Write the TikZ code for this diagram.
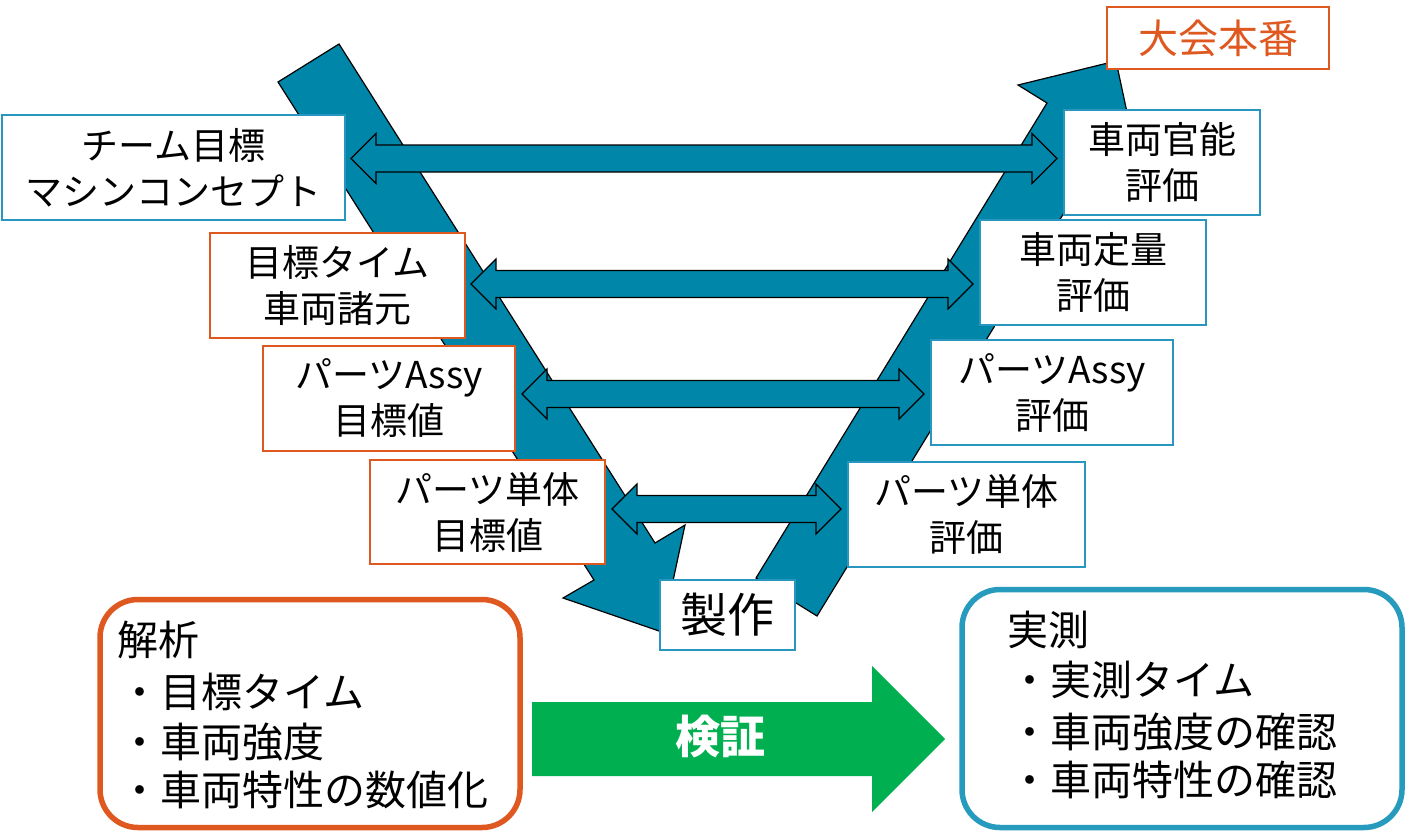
\documentclass[tikz,border=0pt]{standalone}
\usepackage{fontspec}
\setmainfont{Noto Sans CJK JP}
\definecolor{teal}{RGB}{0,134,168}
\definecolor{bblue}{RGB}{40,150,190}
\definecolor{rblue}{RGB}{38,155,190}
\definecolor{orng}{RGB}{222,88,32}
\definecolor{grn}{RGB}{0,176,80}
\tikzset{
  band/.style={fill=teal,draw=black,line width=1.2pt,line join=miter},
  dbl/.style={fill=teal,draw=black,line width=1.2pt,line join=miter},
  bluebox/.style={draw=bblue,line width=1.4pt,fill=white,rectangle,inner sep=0pt,align=center,font=\fontsize{37}{46}\selectfont},
  orbox/.style={draw=orng,line width=1.4pt,fill=white,rectangle,inner sep=0pt,align=center,font=\fontsize{37}{46}\selectfont},
  rbox/.style={rectangle,rounded corners=38pt,line width=5.5pt,fill=white,inner sep=0pt},
  btext/.style={anchor=base west,inner sep=0pt,font=\fontsize{41}{50}\selectfont},
}
\newcommand\dblarr[4]{%
  \coordinate (#1) at (#3,#2);
  \draw[dbl] (#3,#2) -- ({#3+25},{#2-25}) -- ({#3+25},{#2-13.5}) -- ({#4-25},{#2-13.5})
    -- ({#4-25},{#2-25}) -- (#4,#2) -- ({#4-25},{#2+25}) -- ({#4-25},{#2+13.5})
    -- ({#3+25},{#2+13.5}) -- ({#3+25},{#2+25}) -- cycle;}
\begin{document}
\begin{tikzpicture}[x=1pt,y=-1pt]
\useasboundingbox (0,0) rectangle (1408,833);
% V bands
\draw[band] (278,82) -- (339,44) -- (655,543) -- (685,525) -- (662,632) -- (563,598) -- (594,580) -- cycle;
\draw[band] (756,578) -- (1047,103) -- (1018,85) -- (1116,61) -- (1137,159) -- (1108,141) -- (817,616) -- cycle;
% double arrows
\dblarr{a1}{158.5}{351}{1057}
\dblarr{a2}{284}{471}{973}
\dblarr{a3}{394}{522}{924}
\dblarr{a4}{509}{612}{841}
% left boxes
\node[bluebox,minimum width=343pt,minimum height=105pt] (b1) at (173.5,167.5) {チーム目標\\マシンコンセプト};
\node[orbox,minimum width=255pt,minimum height=105pt] (b2) at (337.5,285.5) {目標タイム\\車両諸元};
\node[orbox,minimum width=252pt,minimum height=105pt] (b3) at (389,398.5) {パーツAssy\\目標値};
\node[orbox,minimum width=235pt,minimum height=104pt] (b4) at (487.5,512) {パーツ単体\\目標値};
% right boxes
\node[orbox,text=orng,minimum width=222pt,minimum height=62pt,font=\fontsize{40}{46}\selectfont] (b5) at (1218,38) {大会本番};
\node[bluebox,minimum width=196pt,minimum height=105pt] (b6) at (1162,162.5) {車両官能\\評価};
\node[bluebox,minimum width=226pt,minimum height=105pt] (b7) at (1093,272.5) {車両定量\\評価};
\node[bluebox,minimum width=242pt,minimum height=105pt] (b8) at (1052,392.5) {パーツAssy\\評価};
\node[bluebox,minimum width=237pt,minimum height=105pt] (b9) at (966.5,514.5) {パーツ単体\\評価};
\node[bluebox,minimum width=135pt,minimum height=70pt,font=\fontsize{47}{50}\selectfont] (b10) at (727.5,615) {製作};
% green arrow
\fill[grn] (532,702) -- (872,702) -- (872,666) -- (945,739) -- (872,812) -- (872,776) -- (532,776) -- cycle;
\node[text=white,font=\fontsize{45}{50}\selectfont\bfseries,inner sep=0pt] (v) at (720,737) {検証};
% bottom rounded boxes
\node[rbox,draw=orng,minimum width=420pt,minimum height=228pt] (L) at (310,713.5) {};
\node[rbox,draw=rblue,minimum width=440pt,minimum height=238pt] (R) at (1182,708.5) {};
\node[btext] (l1) at (117,655) {解析};
\node[btext] (l2) at (119,707) {・目標タイム};
\node[btext] (l3) at (119,757) {・車両強度};
\node[btext] (l4) at (119,805) {・車両特性の数値化};
\node[btext] (r1) at (1007,645) {実測};
\node[btext] (r2) at (1009,695) {・実測タイム};
\node[btext] (r3) at (1009,747) {・車両強度の確認};
\node[btext] (r4) at (1009,795) {・車両特性の確認};
\end{tikzpicture}
\end{document}
